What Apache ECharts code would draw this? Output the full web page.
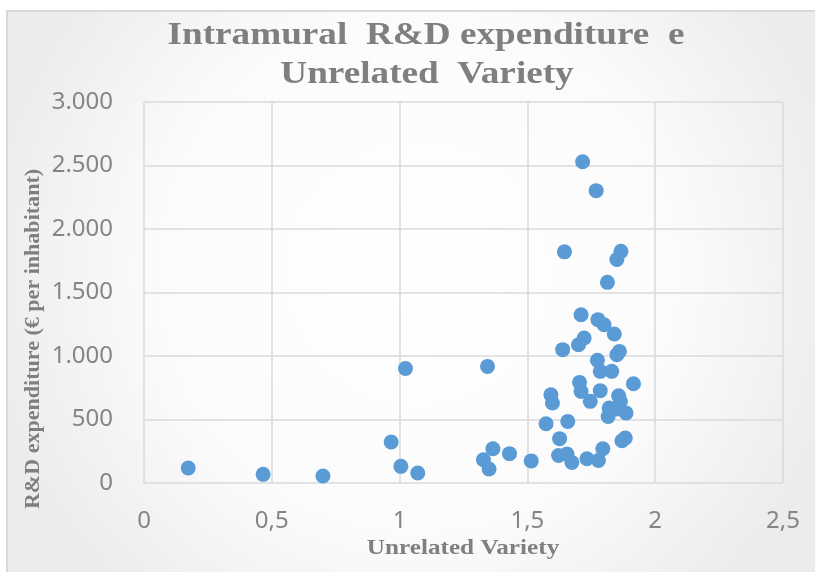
<!DOCTYPE html>
<html>
<head>
<meta charset="utf-8">
<script src="https://cdn.jsdelivr.net/npm/echarts@6/dist/echarts.min.js"></script>
<style>
  html, body { margin: 0; padding: 0; background: #ffffff; }
  #chart { width: 815px; height: 572px; }
</style>
</head>
<body>
<div id="chart"></div>
<script>
// Unrelated Variety (x) vs R&D expenditure per inhabitant (y)
var unrelatedVariety = [
  0.173, 0.466, 0.70, 0.967, 1.023, 1.005, 1.071, 1.344, 1.365, 1.43,
  1.328, 1.35, 1.515, 1.716, 1.769, 1.645, 1.866, 1.85, 1.813, 1.71,
  1.776, 1.80, 1.84, 1.722, 1.70, 1.638, 1.86, 1.85, 1.774, 1.785,
  1.83, 1.915, 1.704, 1.71, 1.785, 1.592, 1.598, 1.746, 1.857, 1.864,
  1.82, 1.816, 1.85, 1.886, 1.573, 1.658, 1.626, 1.883, 1.87, 1.795,
  1.622, 1.655, 1.674, 1.733, 1.778
];
var rdExpenditure = [
  118, 68, 55, 323, 902, 131, 79, 918, 270, 231,
  183, 110, 174, 2530, 2302, 1820, 1824, 1760, 1580, 1325,
  1286, 1246, 1173, 1142, 1089, 1050, 1036, 1010, 966, 879,
  879, 782, 792, 721, 727, 695, 630, 643, 687, 643,
  590, 524, 583, 551, 467, 485, 349, 354, 333, 270,
  217, 228, 162, 191, 178
];
var xTicks = { min: 0, max: 2.5, step: 0.5 };
var yTicks = { min: 0, max: 3000, step: 500 };

var titleLines = ['Intramural  R&D expenditure  e', 'Unrelated  Variety'];
var xName = 'Unrelated Variety';
var yName = 'R&D expenditure (€ per inhabitant)';

var points = unrelatedVariety.map(function (x, i) {
  return [x, rdExpenditure[i]];
});

var chart = echarts.init(document.getElementById('chart'), null, { renderer: 'canvas' });

var serif = '"Liberation Serif", "DejaVu Serif", serif';
var labelColor = '#858585';

var option = {
  animation: false,
  backgroundColor: 'transparent',
  graphic: [
    {
      // chart frame with light gradient
      type: 'rect',
      z: -10,
      shape: { x: 7, y: 11, width: 820, height: 580 },
      style: {
        fill: new echarts.graphic.RadialGradient(0.5, 0.45, 0.75, [
          { offset: 0, color: '#ffffff' },
          { offset: 0.6, color: '#fbfbfb' },
          { offset: 1, color: '#ececec' }
        ]),
        stroke: '#d9d9d9',
        lineWidth: 2
      }
    },
    {
      type: 'text',
      x: 426, y: 36, scaleX: 1.2, scaleY: 1.05,
      style: {
        text: titleLines[0], fill: '#7f7f7f',
        font: 'bold 31px ' + serif,
        textAlign: 'center', textVerticalAlign: 'middle'
      }
    },
    {
      type: 'text',
      x: 427, y: 75, scaleX: 1.2, scaleY: 1.05,
      style: {
        text: titleLines[1], fill: '#7f7f7f',
        font: 'bold 31px ' + serif,
        textAlign: 'center', textVerticalAlign: 'middle'
      }
    },
    {
      type: 'text',
      x: 463, y: 549, scaleX: 1.2,
      style: {
        text: xName, fill: '#7f7f7f',
        font: 'bold 21px ' + serif,
        textAlign: 'center', textVerticalAlign: 'middle'
      }
    },
    {
      type: 'text',
      x: 34, y: 339, rotation: Math.PI / 2, scaleX: 1.05,
      style: {
        text: yName, fill: '#7f7f7f',
        font: 'bold 21px ' + serif,
        textAlign: 'center', textVerticalAlign: 'middle'
      }
    }
  ],
  grid: {
    left: 144,
    right: 32,
    top: 102,
    bottom: 89,
    containLabel: false
  },
  xAxis: {
    type: 'value',
    min: xTicks.min,
    max: xTicks.max,
    interval: xTicks.step,
    axisLine: { show: false },
    axisTick: { show: false },
    splitLine: { show: true, lineStyle: { color: '#dadada', width: 1.5 } },
    axisLabel: {
      margin: 26,
      fontSize: 24,
      fontFamily: '"Noto Sans", sans-serif',
      color: labelColor,
      formatter: function (v) {
        return String(v).replace('.', ',');
      }
    }
  },
  yAxis: {
    type: 'value',
    min: yTicks.min,
    max: yTicks.max,
    interval: yTicks.step,
    axisLine: { show: false },
    axisTick: { show: false },
    splitLine: { show: true, lineStyle: { color: '#dadada', width: 1.5 } },
    axisLabel: {
      margin: 31,
      fontSize: 24,
      fontFamily: '"Noto Sans", sans-serif',
      color: labelColor,
      formatter: function (v) {
        return String(v).replace(/\B(?=(\d{3})+(?!\d))/g, '.');
      }
    }
  },
  series: [
    {
      type: 'scatter',
      data: points,
      symbol: 'circle',
      symbolSize: 15,
      itemStyle: { color: '#5b9bd5', opacity: 1 }
    }
  ]
};

chart.setOption(option);
</script>
</body>
</html>
